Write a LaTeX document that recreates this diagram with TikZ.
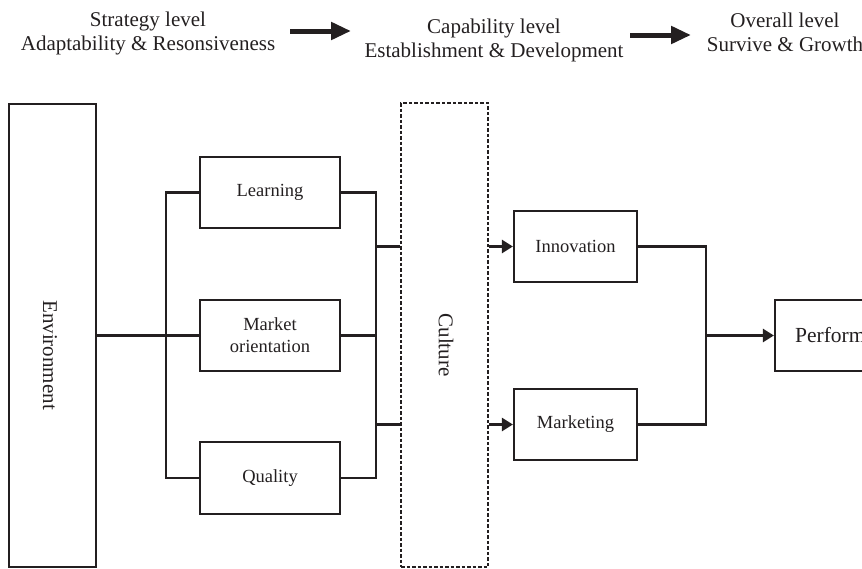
\documentclass[tikz,border=0pt]{standalone}
\usepackage{fontspec}
\setmainfont{Liberation Serif}
\usetikzlibrary{arrows.meta}
\definecolor{ink}{RGB}{35,31,32}
\begin{document}
\begin{tikzpicture}[x=1pt,y=-1pt,
  box/.style={draw=ink,line width=2.2pt,rectangle,inner sep=0pt,align=center,
    font=\fontsize{18.5}{22}\selectfont,text=ink},
  conn/.style={draw=ink,line width=2.6pt},
  arr/.style={conn,-{Triangle[length=11pt,width=13pt]}},
  bigarr/.style={draw=ink,line width=5pt,-{Triangle[length=20pt,width=17pt]}},
  toptext/.style={align=center,font=\fontsize{21}{24}\selectfont,text=ink,inner sep=0pt},
  vtext/.style={rotate=-90,font=\fontsize{21}{24}\selectfont,text=ink,inner sep=0pt}]
\useasboundingbox (0,0) rectangle (862,568);
\begin{scope}
\clip (0,0) rectangle (862,568);
% top row
\node[toptext] (s1) at (148,33) {Strategy level\\Adaptability \& Resonsiveness};
\node[toptext] (s2) at (494,40) {Capability level\\Establishment \& Development};
\node[toptext] (s3) at (785,32) {Overall level\\Survive \& Growth};
\coordinate (a1s) at (290,31); \coordinate (a1e) at (351,31);
\coordinate (a2s) at (630,35); \coordinate (a2e) at (691,35);
\draw[bigarr] (a1s) -- (a1e);
\draw[bigarr] (a2s) -- (a2e);
% boxes
\node[box,minimum width=87pt,minimum height=463pt] (env) at (52.5,335.5) {};
\node[vtext] (envt) at (50,355) {Environment};
\node[box,minimum width=140pt,minimum height=71pt] (learn) at (270,192.5) {Learning};
\node[box,minimum width=140pt,minimum height=71pt] (market) at (270,335.5) {Market\\orientation};
\node[box,minimum width=140pt,minimum height=72pt] (qual) at (270,478) {Quality};
\node[draw=ink,line width=2.5pt,dash pattern=on 3.5pt off 2pt,minimum width=87pt,minimum height=464pt,inner sep=0pt] (cult) at (444.5,335) {};
\node[vtext] (cultt) at (446,345) {Culture};
\node[box,minimum width=123pt,minimum height=71pt] (innov) at (575.5,246.5) {Innovation};
\node[box,minimum width=123pt,minimum height=71pt] (mark) at (575.5,424.5) {Marketing};
\node[box,minimum width=150pt,minimum height=71pt,font=\fontsize{21.5}{24}\selectfont] (perf) at (850,335.5) {Performance};
% buses
\coordinate (lb) at (166,0);
\coordinate (rb) at (376,0);
\coordinate (pb) at (706,0);
\draw[conn] (env.east) -- (market.west);
\draw[conn] (learn.west) -- (learn.west -| lb) -- (qual.west -| lb) -- (qual.west);
\draw[conn] (learn.east) -- (learn.east -| rb) -- (qual.east -| rb) -- (qual.east);
\draw[conn] (market.east) -- (market.east -| rb);
\draw[conn] (innov.west -| rb) -- (innov.west -| cult.west);
\draw[conn] (mark.west -| rb) -- (mark.west -| cult.west);
\draw[arr] (innov.west -| cult.east) -- (innov.west);
\draw[arr] (mark.west -| cult.east) -- (mark.west);
\draw[conn] (innov.east) -- (innov.east -| pb) -- (mark.east -| pb) -- (mark.east);
\draw[arr] (pb |- perf.west) -- (perf.west);
\end{scope}
\end{tikzpicture}
\end{document}
